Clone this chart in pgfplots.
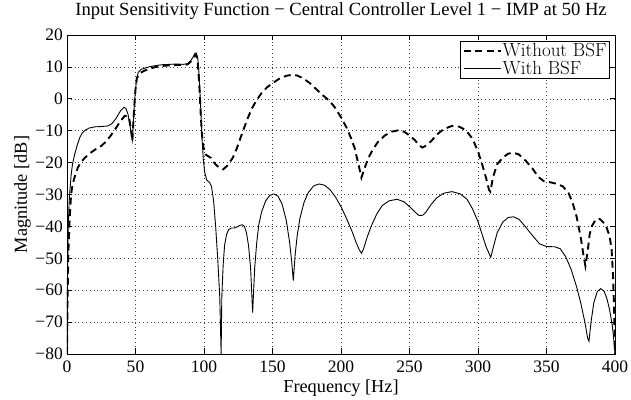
\documentclass[border=0pt]{standalone}
\usepackage{pgfplots}
\pgfplotsset{compat=1.18}
\usepackage{fontspec}
\newfontfamily\tnr{Liberation Serif}

% Frequency response magnitudes
\pgfplotstableread{
f mag
0 -80
0.5 -60
1 -48
2 -37
3 -30
4 -27
5.6 -24.5
8 -21.5
10 -20
13 -18.5
17 -17
21 -15.8
25 -14.8
28.7 -13.3
32 -11.5
36 -9
39 -7
42 -5.4
44 -5.3
45.5 -6.5
46.5 -9
47.7 -13.2
49 -3
50 3
51 6.5
53 8
56 8.7
60 9.4
65 10
70 10.3
75 10.5
80 10.6
85 10.6
88 10.8
90 11.5
92 12.7
93.5 13.8
94.5 13.5
95.5 11
96.5 5
97.5 -4
98.5 -11
99.5 -15
101 -17.4
103 -18
105 -18.5
107 -19.8
109 -20.8
111 -21.5
114 -22.1
117 -21
121 -18.5
124 -15.5
128.5 -10
132 -6
135 -3
138 -0.7
142 1.8
146 3.6
150.4 5
155 6.3
160 7.2
164 7.5
168 7.3
172 6.5
177 5
182 3
187 1
191.8 -0.7
196 -3
200 -5.8
204 -9
207 -12
210 -15.5
213 -21
214.9 -24.7
217 -22
220 -18.5
223.4 -15.8
227 -13.5
232 -11.5
237 -10.3
241.6 -9.9
246 -10.3
250 -11.5
254 -13
257 -14.5
259.4 -15.3
262 -14.7
266 -13.2
270 -11.2
275 -9.5
281 -8.5
286 -8.7
291 -9.8
296 -12.5
300 -16.5
303 -20.5
306 -25
308 -28.5
309 -29.1
311 -24.5
314 -20.5
318 -18.5
322 -17.2
326 -16.9
330 -17.5
335 -19.5
340 -22
344 -24.5
348 -25.8
353 -26.2
358 -26.7
362 -27.5
366 -29.5
369 -32.5
372 -37
375 -43.5
377 -49
378.4 -52.4
380 -48
381.5 -42.5
383 -40
386 -37.8
389 -37.7
392 -39
394 -40.5
396 -43
397.5 -47
398.5 -55
399.3 -65
400 -80
}\withoutbsf

\pgfplotstableread{
f mag
0 -80
0.3 -60
0.8 -42
1.5 -33
2 -29.5
3 -24
4 -20.5
5.6 -17.4
7.5 -14.5
9.3 -12.2
11 -10.8
13 -9.9
16 -9.2
20 -8.8
25 -8.7
30 -8.5
33 -7.7
36 -6
39 -3.8
41.5 -2.7
43 -3
44.5 -4.8
46 -8.5
47.7 -13
49 -3
50 3
51 6.5
52 8.3
54 9.2
58 9.8
62 10.2
66 10.5
70 10.7
75 10.8
80 10.9
85 10.8
88 11
90 11.8
92 13
93.5 14.3
94.5 14.3
95.5 12.5
96.5 7
97.5 -2
98.5 -12
99.5 -19
100.5 -23
102 -25.5
104 -26.2
105.5 -27.5
107 -32
108.5 -40
110 -50
111.5 -62
112.5 -80
113 -62
114 -52
115 -46
116.5 -42.5
118 -41
120 -40.5
122 -40.5
124 -40.2
126 -39.7
128 -39.5
129.5 -40
131 -42
132.5 -46
134 -53
135.5 -67
137 -53
138.5 -45
140 -39.5
142 -35.5
145 -32
148 -30.3
151 -29.8
154 -30.5
157 -33
160 -38
162.5 -45
164 -51
165.2 -57
166.5 -49
168 -43
170 -37.5
173 -32.5
176 -29.5
180 -27.3
184 -26.7
188 -27.1
192 -28.5
196 -30.8
200 -33.8
204 -37.5
208 -41.5
211 -45
213.5 -47.5
215 -48.4
216.5 -47
219 -43.5
222 -40
226 -36.2
230 -33.5
235 -32
241 -31.5
246 -32.3
250 -33.8
254 -35.5
257 -36.6
259.6 -36.5
262 -35.5
266 -33
270 -31
275 -29.6
281 -29.1
287 -29.8
292 -31.5
296 -34.5
300 -38.5
303 -42.5
306 -46.5
309.3 -49.7
311.5 -46
314 -42
318 -38.7
322 -37.2
326 -37
330 -37.8
335 -40.3
340 -43
345 -45.5
350 -46.3
356 -46.4
360 -47
364 -49.5
368 -53.5
372 -59
375 -64
378 -70
380 -75
381 -76
382.5 -70
384.5 -64
387 -60.5
389.5 -59.5
392 -60.3
394 -62.5
396 -66
398 -71
399 -75
400 -80
}\withbsf

\begin{document}
\begin{tikzpicture}
\begin{axis}[
  scale only axis,
  width=548bp, height=319bp,
  xmin=0, xmax=400, ymin=-80, ymax=20,
  xtick={0,50,...,400},
  xticklabels={0,50,100,150,200,250,300,350,400},
  ytick={-80,-70,...,20},
  yticklabels={−80,−70,−60,−50,−40,−30,−20,−10,0,10,20},
  tick align=inside,
  major tick length=5.5bp,
  tick style={black, line width=0.6bp},
  axis line style={line width=0.8bp},
  grid=major,
  major grid style={black!75, line width=0.5bp, dash pattern=on 0.8bp off 3bp},
  xticklabel style={font=\tnr\fontsize{17.5bp}{17.5bp}\selectfont, anchor=north, inner sep=0pt, yshift=-7bp},
  yticklabel style={font=\tnr\fontsize{17.5bp}{17.5bp}\selectfont, anchor=east, inner sep=0pt, xshift=-4bp},
  title={Input Sensitivity Function − Central Controller Level 1 − IMP at 50 Hz},
  title style={at={(axis description cs:0.5,1)}, anchor=base, yshift=14bp,
    inner sep=0pt, font=\tnr\fontsize{18.6bp}{18.6bp}\selectfont},
  xlabel={Frequency [Hz]},
  xlabel style={at={(axis description cs:0.5,0)}, anchor=base, yshift=-39bp,
    inner sep=0pt, font=\tnr\fontsize{18.3bp}{18.3bp}\selectfont},
  ylabel={Magnitude [dB]},
  ylabel style={at={(axis description cs:-0.073,0.5)}, anchor=base,
    inner sep=0pt, font=\tnr\fontsize{18.3bp}{18.3bp}\selectfont},
  legend style={at={(rel axis cs:1,1)}, anchor=north east, xshift=-5bp, yshift=-6bp,
    draw=black, line width=1bp, inner xsep=2bp, inner ysep=1bp, row sep=1bp,
    font=\fontsize{19bp}{19bp}\selectfont,
    nodes={inner sep=1bp}},
  legend cell align=left,
  legend image code/.code={\draw[#1] (0bp,0bp) -- (37bp,0bp);},
]
\addplot[black, line width=1.9bp, dash pattern=on 7bp off 4.5bp] table[x=f, y=mag] {\withoutbsf};
\addlegendentry{Without BSF}
\addplot[black, line width=0.9bp] table[x=f, y=mag] {\withbsf};
\addlegendentry{With BSF}
\end{axis}
\pgfresetboundingbox
\path (current axis.south west) ++(-67bp,-46bp) coordinate (bbA);
\path (current axis.north east) ++(16bp,35bp) coordinate (bbB);
\useasboundingbox (bbA) rectangle (bbB);
\end{tikzpicture}
\end{document}
